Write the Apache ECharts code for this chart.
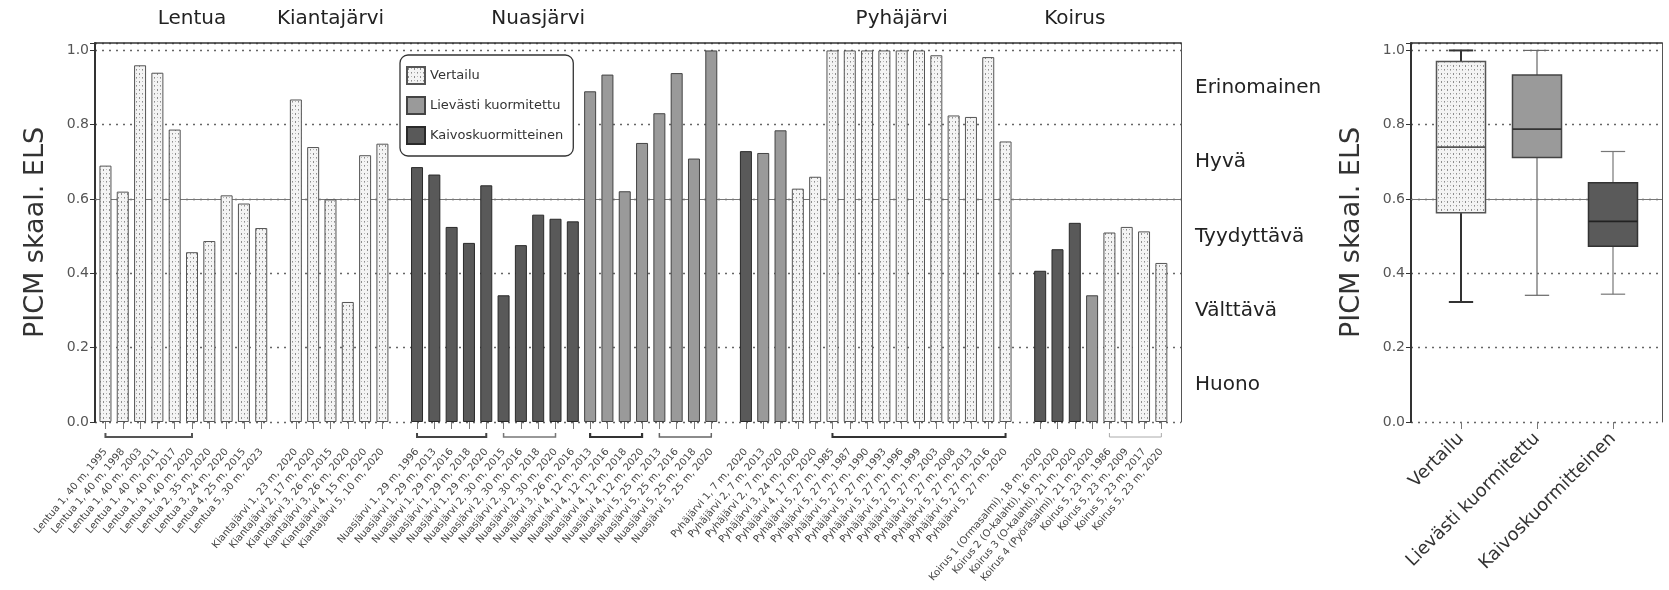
<!DOCTYPE html>
<html>
<head>
<meta charset="utf-8">
<script src="https://cdn.jsdelivr.net/npm/echarts@6/dist/echarts.min.js"></script>
<style>
  html, body { margin: 0; padding: 0; background: #fff; }
  #chart { width: 1669px; height: 590px; }
</style>
</head>
<body>
<div id="chart"></div>
<script>
// ---- data ----------------------------------------------------------------
const lakes = ['Lentua', 'Kiantajärvi', 'Nuasjärvi', 'Pyhäjärvi', 'Koirus'];

// sampling sites (empty strings are spacer slots between lakes)
const sites = [
  'Lentua 1, 40 m, 1995', 'Lentua 1, 40 m, 1998', 'Lentua 1, 40 m, 2003', 'Lentua 1, 40 m, 2011',
  'Lentua 1, 40 m, 2017', 'Lentua 1, 40 m, 2020', 'Lentua 2, 35 m, 2020', 'Lentua 3, 24 m, 2020',
  'Lentua 4, 25 m, 2015', 'Lentua 5, 30 m, 2023',
  '',
  'Kiantajärvi 1, 23 m, 2020', 'Kiantajärvi 2, 17 m, 2020', 'Kiantajärvi 3, 26 m, 2015',
  'Kiantajärvi 3, 26 m, 2020', 'Kiantajärvi 4, 15 m, 2020', 'Kiantajärvi 5, 10 m, 2020',
  '',
  'Nuasjärvi 1, 29 m, 1996', 'Nuasjärvi 1, 29 m, 2013', 'Nuasjärvi 1, 29 m, 2016', 'Nuasjärvi 1, 29 m, 2018',
  'Nuasjärvi 1, 29 m, 2020', 'Nuasjärvi 2, 30 m, 2015', 'Nuasjärvi 2, 30 m, 2016', 'Nuasjärvi 2, 30 m, 2018',
  'Nuasjärvi 2, 30 m, 2020', 'Nuasjärvi 3, 26 m, 2016', 'Nuasjärvi 4, 12 m, 2013', 'Nuasjärvi 4, 12 m, 2016',
  'Nuasjärvi 4, 12 m, 2018', 'Nuasjärvi 4, 12 m, 2020', 'Nuasjärvi 5, 25 m, 2013', 'Nuasjärvi 5, 25 m, 2016',
  'Nuasjärvi 5, 25 m, 2018', 'Nuasjärvi 5, 25 m, 2020',
  '',
  'Pyhäjärvi 1, 7 m, 2020', 'Pyhäjärvi 2, 7 m, 2013', 'Pyhäjärvi 2, 7 m, 2020', 'Pyhäjärvi 3, 24 m, 2020',
  'Pyhäjärvi 4, 17 m, 2020', 'Pyhäjärvi 5, 27 m, 1985', 'Pyhäjärvi 5, 27 m, 1987', 'Pyhäjärvi 5, 27 m, 1990',
  'Pyhäjärvi 5, 27 m, 1993', 'Pyhäjärvi 5, 27 m, 1996', 'Pyhäjärvi 5, 27 m, 1999', 'Pyhäjärvi 5, 27 m, 2003',
  'Pyhäjärvi 5, 27 m, 2008', 'Pyhäjärvi 5, 27 m, 2013', 'Pyhäjärvi 5, 27 m, 2016', 'Pyhäjärvi 5, 27 m, 2020',
  '',
  'Koirus 1 (Ormasalmi), 18 m, 2020', 'Koirus 2 (O-kalahti), 16 m, 2020', 'Koirus 3 (O-kalahti), 21 m, 2020',
  'Koirus 4 (Pyöräsalmi), 21 m, 2020', 'Koirus 5, 23 m, 1986', 'Koirus 5, 23 m, 2009',
  'Koirus 5, 23 m, 2017', 'Koirus 5, 23 m, 2020'
];

// PICM scaled ELS per site
const picm = [
  0.69, 0.62, 0.96, 0.94, 0.787, 0.457, 0.487, 0.61, 0.588, 0.522,
  null,
  0.868, 0.74, 0.599, 0.323, 0.718, 0.749,
  null,
  0.686, 0.666, 0.525, 0.482, 0.637, 0.341, 0.476, 0.558, 0.547, 0.540,
  0.89, 0.935, 0.621, 0.751, 0.831, 0.939, 0.709, 1.0,
  null,
  0.729, 0.724, 0.785, 0.628, 0.66, 1.0, 1.0, 1.0, 1.0, 1.0, 1.0, 0.987, 0.825, 0.821, 0.982, 0.755,
  null,
  0.407, 0.465, 0.536, 0.341, 0.51, 0.525, 0.513, 0.428
];

// loading class per site: 0 = Vertailu, 1 = Lievästi kuormitettu, 2 = Kaivoskuormitteinen
const load = [
  0, 0, 0, 0, 0, 0, 0, 0, 0, 0,
  -1,
  0, 0, 0, 0, 0, 0,
  -1,
  2, 2, 2, 2, 2, 2, 2, 2, 2, 2,
  1, 1, 1, 1, 1, 1, 1, 1,
  -1,
  2, 1, 1, 0, 0, 0, 0, 0, 0, 0, 0, 0, 0, 0, 0, 0,
  -1,
  2, 2, 2, 1, 0, 0, 0, 0
];

const loadNames = ['Vertailu', 'Lievästi kuormitettu', 'Kaivoskuormitteinen'];
const classNames = ['Huono', 'Välttävä', 'Tyydyttävä', 'Hyvä', 'Erinomainen'];

// five-number summaries per loading class
const boxMin = [0.323, 0.341, 0.344];
const boxQ1 = [0.563, 0.712, 0.473];
const boxMedian = [0.740, 0.788, 0.540];
const boxQ3 = [0.970, 0.934, 0.644];
const boxMax = [1.0, 1.0, 0.728];

// ---- layout & styles -------------------------------------------------------
const FONT = 'DejaVu Sans';
const Y_MAX = 1.02;
const PLOT_TOP = 43, PLOT_H = 379;

// lake title anchors (fractional category index) and site brackets
const lakeTitleAt = [4.6, 13.0, 24.6, 46.25, 56.4];
const brackets = [
  { from: 0, to: 5, width: 2, color: '#555' },
  { from: 18, to: 22, width: 2, color: '#444' },
  { from: 23, to: 26, width: 1.5, color: '#777' },
  { from: 28, to: 31, width: 2.2, color: '#333' },
  { from: 32, to: 35, width: 1.5, color: '#666' },
  { from: 42, to: 52, width: 2, color: '#333' },
  { from: 58, to: 61, width: 1, color: '#aaa' }
];

function stipple() {
  const c = document.createElement('canvas');
  c.width = 6; c.height = 8;
  const g = c.getContext('2d');
  g.fillStyle = '#f4f4f4';
  g.fillRect(0, 0, 6, 8);
  g.fillStyle = '#8c8c8c';
  g.fillRect(1, 1, 1, 1); g.fillRect(1, 2, 1, 1); g.fillRect(4, 5, 1, 1);
  g.fillStyle = '#b8b8b8';
  g.fillRect(4, 1, 1, 1); g.fillRect(1, 5, 1, 1); g.fillRect(4, 6, 1, 1);
  return c;
}
const pattern = { image: stipple(), repeat: 'repeat' };

const barStyles = [
  { color: pattern, borderColor: '#555', borderWidth: 1 },
  { color: '#9a9a9a', borderColor: '#444', borderWidth: 1 },
  { color: '#595959', borderColor: '#2a2a2a', borderWidth: 1 }
];
const boxStyles = [
  { fill: pattern, stroke: '#555', whisker: '#333', whiskerW: 2, median: '#555' },
  { fill: '#9a9a9a', stroke: '#444', whisker: '#666', whiskerW: 1.2, median: '#333' },
  { fill: '#5a5a5a', stroke: '#333', whisker: '#777', whiskerW: 1.2, median: '#222' }
];

const yLabel = v => (v > 1.001 ? '' : v.toFixed(1));
const dotted = { type: [2, 5], color: '#666', width: 1.3 };

function frameAxes(gridIndex) {
  return {
    x: {
      gridIndex, type: 'value', min: 0, max: 1, position: 'top',
      axisLine: { show: true, onZero: false, lineStyle: { color: '#333', width: 1.5 } },
      axisTick: { show: false }, axisLabel: { show: false }, splitLine: { show: false }
    },
    yLeft: {
      gridIndex, type: 'value', min: 0, max: Y_MAX, interval: 0.2,
      axisLine: { show: true, onZero: false, lineStyle: { color: '#333', width: 2 } },
      axisTick: { show: true, length: 5, lineStyle: { color: '#333' } },
      axisLabel: { fontSize: 14, color: '#555', fontFamily: FONT, margin: 6, formatter: yLabel },
      splitLine: { show: true, lineStyle: dotted },
      name: 'PICM skaal. ELS', nameLocation: 'middle', nameGap: 46,
      nameTextStyle: { fontSize: 27, color: '#333', fontFamily: FONT }
    },
    yRight: {
      gridIndex, type: 'value', min: 0, max: Y_MAX, position: 'right',
      axisLine: { show: true, onZero: false, lineStyle: { color: '#555', width: 1 } },
      axisTick: { show: false }, axisLabel: { show: false }, splitLine: { show: false }
    }
  };
}
const mainFrame = frameAxes(0);
const boxFrame = frameAxes(2);

function thresholdLine(xAxisIndex, yAxisIndex) {
  return {
    type: 'line', xAxisIndex, yAxisIndex, data: [], silent: true, z: 1,
    markLine: {
      silent: true, symbol: ['none', 'none'], label: { show: false },
      lineStyle: { type: 'solid', color: '#777', width: 1.2 },
      data: [{ yAxis: 0.6 }]
    }
  };
}

const barSeries = loadNames.map((name, k) => ({
  type: 'bar', name, xAxisIndex: 1, yAxisIndex: 2,
  barWidth: 12, barGap: '-100%', z: 5,
  itemStyle: barStyles[k],
  data: picm.map((v, i) => (load[i] === k ? v : '-'))
}));

const boxSeries = {
  type: 'custom', name: 'Jakauma', xAxisIndex: 3, yAxisIndex: 5, z: 5,
  data: loadNames.map((n, i) => [i, boxMin[i], boxQ1[i], boxMedian[i], boxQ3[i], boxMax[i]]),
  encode: { x: 0, y: [1, 2, 3, 4, 5] },
  renderItem(params, api) {
    const i = api.value(0);
    const s = boxStyles[i];
    const slot = api.size([1, 0])[0];
    const bw = slot * 0.645, cw = slot * 0.32;
    const pMin = api.coord([i, api.value(1)]);
    const pQ1 = api.coord([i, api.value(2)]);
    const pMed = api.coord([i, api.value(3)]);
    const pQ3 = api.coord([i, api.value(4)]);
    const pMax = api.coord([i, api.value(5)]);
    const x = pMin[0];
    const wStyle = { stroke: s.whisker, lineWidth: s.whiskerW };
    return {
      type: 'group',
      children: [
        { type: 'line', shape: { x1: x, y1: pMin[1], x2: x, y2: pQ1[1] }, style: wStyle },
        { type: 'line', shape: { x1: x, y1: pQ3[1], x2: x, y2: pMax[1] }, style: wStyle },
        { type: 'line', shape: { x1: x - cw / 2, y1: pMin[1], x2: x + cw / 2, y2: pMin[1] }, style: wStyle },
        { type: 'line', shape: { x1: x - cw / 2, y1: pMax[1], x2: x + cw / 2, y2: pMax[1] }, style: wStyle },
        { type: 'rect', shape: { x: x - bw / 2, y: pQ3[1], width: bw, height: pQ1[1] - pQ3[1] },
          style: { fill: s.fill, stroke: s.stroke, lineWidth: 1.5 } },
        { type: 'line', shape: { x1: x - bw / 2, y1: pMed[1], x2: x + bw / 2, y2: pMed[1] },
          style: { stroke: s.median, lineWidth: 1.8 } }
      ]
    };
  }
};

const chart = echarts.init(document.getElementById('chart'), null, { renderer: 'canvas' });

chart.setOption({
  animation: false,
  textStyle: { fontFamily: FONT },
  grid: [
    { left: 95, top: PLOT_TOP, width: 1086, height: PLOT_H },          // main frame
    { left: 96.8, top: PLOT_TOP, width: 1073.2, height: PLOT_H },      // site bars
    { left: 1411, top: PLOT_TOP, width: 251, height: PLOT_H },         // box frame
    { left: 1423, top: PLOT_TOP, width: 228, height: PLOT_H },         // boxes
    { left: 95, top: 50.7, width: 1086, height: 371.3 }                 // status classes
  ],
  xAxis: [
    mainFrame.x,
    {
      gridIndex: 1, type: 'category', data: sites, boundaryGap: true,
      axisLine: { show: false },
      axisTick: { show: true, alignWithLabel: true, length: 7, interval: (i, v) => v !== '',
                  lineStyle: { color: '#777' } },
      axisLabel: { interval: 0, rotate: 50, fontSize: 10, color: '#444', fontFamily: FONT, margin: 28 }
    },
    boxFrame.x,
    {
      gridIndex: 3, type: 'category', data: loadNames, boundaryGap: true,
      axisLine: { show: false },
      axisTick: { show: true, alignWithLabel: true, length: 7, lineStyle: { color: '#777' } },
      axisLabel: { interval: 0, rotate: 45, fontSize: 18, color: '#333', fontFamily: FONT, margin: 14 }
    },
    { gridIndex: 4, type: 'value', show: false }
  ],
  yAxis: [
    mainFrame.yLeft,
    mainFrame.yRight,
    { gridIndex: 1, type: 'value', min: 0, max: Y_MAX, show: false },
    boxFrame.yLeft,
    boxFrame.yRight,
    { gridIndex: 3, type: 'value', min: 0, max: Y_MAX, show: false },
    {
      gridIndex: 4, type: 'category', data: classNames, position: 'right',
      axisLine: { show: false, onZero: false }, axisTick: { show: false }, splitLine: { show: false },
      axisLabel: { interval: 0, fontSize: 20, color: '#222', fontFamily: FONT, margin: 14 }
    }
  ],
  legend: {
    data: loadNames, orient: 'vertical', left: 400, top: 55,
    itemWidth: 18, itemHeight: 17, itemGap: 11, padding: [11, 10, 11, 6],
    borderColor: '#333', borderWidth: 1.3, borderRadius: 8, backgroundColor: '#fff',
    icon: 'rect', selectedMode: false,
    textStyle: { fontSize: 13, color: '#333', fontFamily: FONT }
  },
  series: [
    thresholdLine(0, 0),
    thresholdLine(2, 3),
    ...barSeries,
    boxSeries
  ]
});

// lake titles and same-site brackets, placed through the category axis scale
const axisY = PLOT_TOP + PLOT_H;
const px = idx => chart.convertToPixel({ xAxisIndex: 1 }, idx);
const graphics = [];
lakes.forEach((name, k) => {
  graphics.push({
    type: 'text', x: px(lakeTitleAt[k]), y: 19,
    style: { text: name, fontSize: 20, fontFamily: FONT, fill: '#222', align: 'center', verticalAlign: 'middle' }
  });
});
brackets.forEach(b => {
  const x1 = px(b.from), x2 = px(b.to);
  graphics.push({
    type: 'polyline',
    shape: { points: [[x1, axisY + 11], [x1, axisY + 15], [x2, axisY + 15], [x2, axisY + 11]] },
    style: { stroke: b.color, lineWidth: b.width, fill: null }
  });
});
chart.setOption({ graphic: graphics });
</script>
</body>
</html>
